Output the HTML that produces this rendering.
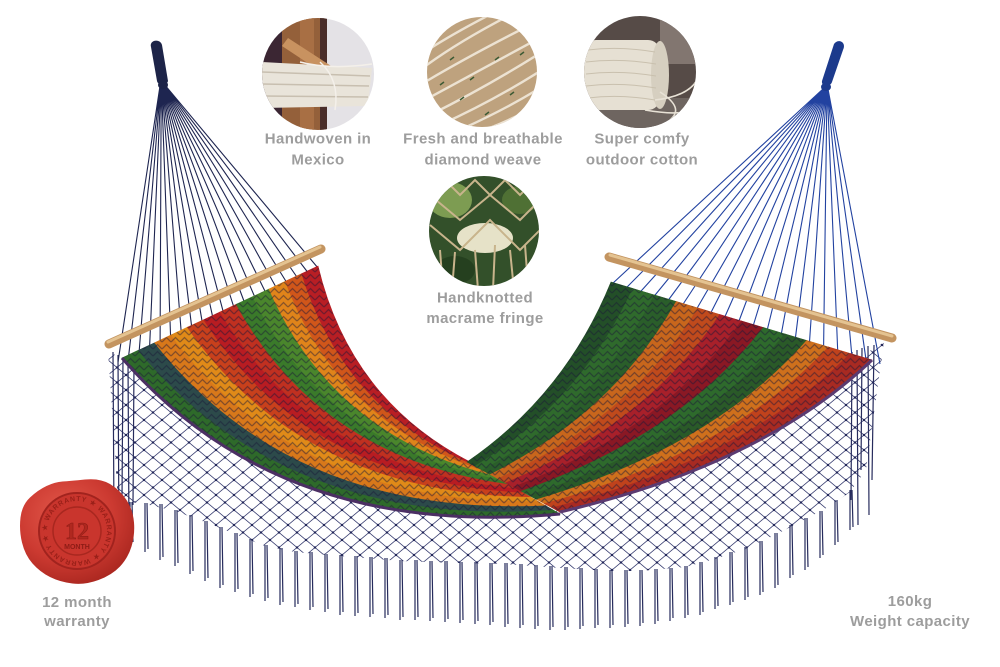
<!DOCTYPE html>
<html><head><meta charset="utf-8"><style>
html,body{margin:0;padding:0;background:#fff;}
body{width:1000px;height:667px;overflow:hidden;}
svg{display:block;}
.lbl{font-family:"Liberation Sans",Arial,sans-serif;font-weight:bold;font-size:15px;fill:#9d9d9d;letter-spacing:0.4px;}
</style></head><body>
<svg width="1000" height="667" viewBox="0 0 1000 667" xmlns="http://www.w3.org/2000/svg">
<defs>
<pattern id="mesh" width="18" height="15" patternUnits="userSpaceOnUse">
<path d="M0,0 L18,15 M18,0 L0,15" stroke="#3a3f72" stroke-width="0.85" fill="none"/>
<circle cx="9" cy="7.5" r="1.2" fill="#23285a"/>
<circle cx="0" cy="0" r="1.2" fill="#23285a"/><circle cx="18" cy="0" r="1.2" fill="#23285a"/>
<circle cx="0" cy="15" r="1.2" fill="#23285a"/><circle cx="18" cy="15" r="1.2" fill="#23285a"/>
</pattern>
<pattern id="zz" width="9" height="7" patternUnits="userSpaceOnUse">
<path d="M0,6 L4.5,1.5 L9,6" stroke="#1a1838" stroke-width="1.3" fill="none"/>
</pattern>
<radialGradient id="seal" cx="0.4" cy="0.35" r="0.7">
<stop offset="0" stop-color="#e45a4c"/><stop offset="0.6" stop-color="#cc3a31"/><stop offset="1" stop-color="#a9261f"/>
</radialGradient>
<clipPath id="c1"><circle cx="318" cy="74" r="56"/></clipPath>
<clipPath id="c2"><circle cx="482" cy="72" r="55"/></clipPath>
<clipPath id="c3"><circle cx="640" cy="72" r="56"/></clipPath>
<clipPath id="c4"><circle cx="484" cy="231" r="55"/></clipPath>
<path id="ring" d="M77,531 m-30,0 a30,30 0 1,1 60,0 a30,30 0 1,1 -60,0"/>
</defs>

<!-- circle 1 -->
<g clip-path="url(#c1)">
<rect x="260" y="16" width="120" height="120" fill="#e4e2e6"/>
<rect x="260" y="16" width="22" height="120" fill="#3b2633"/>
<rect x="282" y="16" width="44" height="120" fill="#94603a"/>
<rect x="300" y="16" width="14" height="120" fill="#a86f44"/>
<rect x="320" y="16" width="7" height="120" fill="#4a2e2a"/>
<path d="M288,38 L362,86 L356,95 L282,46 Z" fill="#c89260"/>
<path d="M262,62 L372,68 L368,106 L262,108 Z" fill="#e9e4da"/>
<path d="M262,72 L370,76 M262,84 L369,86 M262,96 L368,97" stroke="#c8bfb0" stroke-width="1.5"/>
<path d="M320,62 Q340,80 335,110 M300,62 Q330,70 372,64" stroke="#f4f0ea" stroke-width="1.5" fill="none"/>
</g>
<!-- circle 2 -->
<g clip-path="url(#c2)">
<rect x="425" y="15" width="115" height="115" fill="#bea27e"/>
<g stroke="#ece2d2" stroke-width="2.4" fill="none">
<path d="M420,70 Q460,40 520,10"/><path d="M420,85 Q470,55 540,20"/><path d="M425,100 Q480,70 545,35"/>
<path d="M430,115 Q490,85 545,50"/><path d="M440,125 Q495,100 545,68"/><path d="M455,132 Q505,110 545,85"/>
<path d="M470,135 Q515,120 545,100"/><path d="M420,55 Q450,35 495,12"/><path d="M422,40 Q440,28 470,15"/>
<path d="M500,135 Q525,125 545,115"/>
</g>
<g stroke="#3c5a34" stroke-width="1.5">
<path d="M450,60 l4,-3 M470,80 l4,-3 M495,60 l4,-3 M460,100 l4,-3 M510,95 l4,-3 M485,115 l4,-3 M440,85 l4,-3 M520,55 l4,-3"/>
</g>
</g>
<!-- circle 3 -->
<g clip-path="url(#c3)">
<rect x="580" y="14" width="120" height="120" fill="#564b47"/>
<rect x="660" y="14" width="40" height="50" fill="#827670"/>
<rect x="580" y="98" width="120" height="40" fill="#6e6560"/>
<rect x="584" y="40" width="76" height="70" rx="12" fill="#e6e0d3"/>
<ellipse cx="660" cy="75" rx="9" ry="34" fill="#d6cfc0"/>
<g stroke="#c9c0ae" stroke-width="1" fill="none">
<path d="M588,50 Q620,46 655,52 M586,62 Q620,58 656,64 M586,74 Q620,70 656,76 M586,86 Q620,82 656,88 M588,98 Q620,94 655,100"/>
</g>
<path d="M655,100 Q690,96 698,78 M645,110 Q690,118 702,104 M660,92 Q685,108 670,120" stroke="#e8e2d6" stroke-width="1.6" fill="none"/>
</g>
<!-- circle 4 -->
<g clip-path="url(#c4)">
<rect x="425" y="172" width="120" height="120" fill="#33502a"/>
<ellipse cx="450" cy="200" rx="22" ry="18" fill="#7d9c52"/>
<ellipse cx="520" cy="200" rx="18" ry="14" fill="#4f7034"/>
<ellipse cx="485" cy="238" rx="28" ry="15" fill="#e6e2c8"/>
<ellipse cx="455" cy="270" rx="20" ry="14" fill="#25401f"/>
<g stroke="#c8b48c" stroke-width="2" fill="none">
<path d="M430,195 L460,220 L490,195 L520,220 L540,200 M430,225 L460,250 L490,220 L520,250 L540,230"/>
<path d="M445,180 L460,195 L475,180 L490,195 L505,180 L520,195 L535,180"/>
<path d="M440,250 L443,290 M455,252 L452,290 M475,250 L478,290 M495,245 L493,290 M510,250 L514,290 M525,245 L528,285"/>
</g>
</g>

<!-- labels -->
<text class="lbl" x="318" y="143.5" text-anchor="middle">Handwoven in</text>
<text class="lbl" x="318" y="164.5" text-anchor="middle">Mexico</text>
<text class="lbl" x="483" y="143.5" text-anchor="middle">Fresh and breathable</text>
<text class="lbl" x="483" y="164.5" text-anchor="middle">diamond weave</text>
<text class="lbl" x="642" y="143.5" text-anchor="middle">Super comfy</text>
<text class="lbl" x="642" y="164.5" text-anchor="middle">outdoor cotton</text>
<text class="lbl" x="485" y="302.5" text-anchor="middle">Handknotted</text>
<text class="lbl" x="485" y="323" text-anchor="middle">macrame fringe</text>
<text class="lbl" x="77" y="607" text-anchor="middle">12 month</text>
<text class="lbl" x="77" y="626" text-anchor="middle">warranty</text>
<text class="lbl" x="910" y="606" text-anchor="middle">160kg</text>
<text class="lbl" x="910" y="626" text-anchor="middle">Weight capacity</text>

<!-- net -->
<path d="M108,350 L125,362 L250,450 L470,495 L650,482 L868,352 L884,342 L866,470 L850,492 L830,506 L804,520 L775,535 L745,549 L715,559 L685,567 L640,571 L610,571 L560,568 L505,564 L460,563 L400,561 L340,556 L295,552 L265,546 L235,534 L205,522 L175,511 L145,504 L118,500 Z" fill="url(#mesh)"/>
<g stroke="#262b5c" stroke-width="1.2" fill="none">
<path d="M113,352 L114,520 M118,355 L119,540 M123,358 L122,500 M128,360 L129,535 M134,364 L133,505 M852,352 L851,500 M857,350 L858,525 M862,348 L861,470 M868,346 L869,515 M874,345 L872,480"/>
<path d="M130,502 L130,545 M145,503 L145,552 M160,504 L160,560 M175,510 L175,566 M190,515 L190,574 M205,521 L205,581 M220,527 L220,588 M235,533 L235,592 M250,539 L250,597 M265,545 L265,601 M280,548 L280,605 M295,551 L295,607 M310,552 L310,610 M325,554 L325,612 M340,555 L340,615 M355,556 L355,616 M370,557 L370,617 M385,558 L385,618 M400,560 L400,620 M415,560 L415,620 M430,561 L430,621 M445,561 L445,622 M460,562 L460,623 M475,562 L475,624 M490,563 L490,625 M505,563 L505,627 M520,564 L520,628 M535,565 L535,629 M550,566 L550,630 M565,567 L565,630 M580,568 L580,629 M595,569 L595,628 M610,570 L610,628 M625,570 L625,627 M640,570 L640,626 M655,569 L655,624 M670,568 L670,621 M685,566 L685,618 M700,562 L700,615 M715,557 L715,609 M730,552 L730,605 M745,547 L745,600 M760,541 L760,595 M775,533 L775,588 M790,525 L790,578 M805,518 L805,570 M820,511 L820,558 M835,500 L835,545 M850,490 L850,530"/>
<path d="M132,502 L133,542 M147,503 L148,549 M162,504 L163,557 M177,510 L178,563 M192,515 L193,571 M207,521 L208,578 M222,527 L223,585 M237,533 L238,589 M252,539 L253,594 M267,545 L268,598 M282,548 L283,602 M297,551 L298,604 M312,552 L313,607 M327,554 L328,609 M342,555 L343,612 M357,556 L358,613 M372,557 L373,614 M387,558 L388,615 M402,560 L403,617 M417,560 L418,617 M432,561 L433,618 M447,561 L448,619 M462,562 L463,620 M477,562 L478,621 M492,563 L493,622 M507,563 L508,624 M522,564 L523,625 M537,565 L538,626 M552,566 L553,627 M567,567 L568,627 M582,568 L583,626 M597,569 L598,625 M612,570 L613,625 M627,570 L628,624 M642,570 L643,623 M657,569 L658,621 M672,568 L673,618 M687,566 L688,615 M702,562 L703,612 M717,557 L718,606 M732,552 L733,602 M747,547 L748,597 M762,541 L763,592 M777,533 L778,585 M792,525 L793,575 M807,518 L808,567 M822,511 L823,555 M837,500 L838,542 M852,490 L853,527"/>
</g>

<!-- strings -->
<g stroke="#1e2550" stroke-width="1.1" fill="none">
<path d="M160,86 L118,362 M160.3,86 L128.5,357 M160.6,86 L139.1,352 M160.9,86 L149.6,347 M161.2,86 L160.1,342 M161.5,86 L170.6,337 M161.8,86 L181.2,332 M162.1,86 L191.7,327 M162.4,86 L202.2,322 M162.7,86 L212.7,317 M163,86 L223.3,312 M163.3,86 L233.8,307 M163.6,86 L244.3,302 M163.9,86 L254.8,297 M164.2,86 L265.4,292 M164.5,86 L275.9,287 M164.8,86 L286.4,282 M165.1,86 L296.9,277 M165.4,86 L307.5,272 M165.7,86 L318,268"/>
</g>
<g stroke="#2242a0" stroke-width="1.1" fill="none">
<path d="M824,88 L612,284 M824.2,88 L626.1,288 M824.4,88 L640.2,292 M824.6,88 L654.3,296 M824.8,88 L668.4,300 M825,88 L682.5,305 M825.2,88 L696.6,309 M825.4,88 L710.7,313 M825.6,88 L724.8,317 M825.8,88 L739,321 M826,88 L753.1,326 M826.2,88 L767.2,330 M826.4,88 L781.3,334 M826.6,88 L795.4,338 M826.8,88 L809.5,342 M827,88 L823.6,347 M827.2,88 L837.7,351 M827.4,88 L851.8,355 M827.6,88 L865.9,359 M827.8,88 L880,364"/>
</g>

<!-- left bed -->
<path d="M122,358 Q280,540 560,514 L470,462 Q350,400 318,266 Z" fill="#8a1c2a"/>
<g stroke-width="0.6">
<path d="M122,358 Q280,540 560,514 L552.5,509.7 Q285.8,528.3 138.3,350.3 Z" fill="#2e6a2a" stroke="#2e6a2a"/>
<path d="M138.3,350.3 Q285.8,528.3 552.5,509.7 L545,505.3 Q291.7,516.7 154.7,342.7 Z" fill="#2c4a4a" stroke="#2c4a4a"/>
<path d="M154.7,342.7 Q291.7,516.7 545,505.3 L537.5,501 Q297.5,505 171,335 Z" fill="#d8781a" stroke="#d8781a"/>
<path d="M171,335 Q297.5,505 537.5,501 L530,496.7 Q303.3,493.3 187.3,327.3 Z" fill="#e08a18" stroke="#e08a18"/>
<path d="M187.3,327.3 Q303.3,493.3 530,496.7 L522.5,492.3 Q309.2,481.7 203.7,319.7 Z" fill="#c8401c" stroke="#c8401c"/>
<path d="M203.7,319.7 Q309.2,481.7 522.5,492.3 L515,488 Q315,470 220,312 Z" fill="#b81c22" stroke="#b81c22"/>
<path d="M220,312 Q315,470 515,488 L507.5,483.7 Q320.8,458.3 236.3,304.3 Z" fill="#c03020" stroke="#c03020"/>
<path d="M236.3,304.3 Q320.8,458.3 507.5,483.7 L500,479.3 Q326.7,446.7 252.7,296.7 Z" fill="#3a7a2a" stroke="#3a7a2a"/>
<path d="M252.7,296.7 Q326.7,446.7 500,479.3 L492.5,475 Q332.5,435 269,289 Z" fill="#4a862c" stroke="#4a862c"/>
<path d="M269,289 Q332.5,435 492.5,475 L485,470.7 Q338.3,423.3 285.3,281.3 Z" fill="#e0841a" stroke="#e0841a"/>
<path d="M285.3,281.3 Q338.3,423.3 485,470.7 L477.5,466.3 Q344.2,411.7 301.7,273.7 Z" fill="#d0561a" stroke="#d0561a"/>
<path d="M301.7,273.7 Q344.2,411.7 477.5,466.3 L470,462 Q350,400 318,266 Z" fill="#b81e24" stroke="#b81e24"/>
</g>
<path d="M122,358 Q280,540 560,514 L470,462 Q350,400 318,266 Z" fill="url(#zz)" opacity="0.45"/>
<path d="M122,358 Q280,540 560,514" stroke="#4b2f63" stroke-width="3" fill="none"/>

<!-- right bed -->
<path d="M611,282 Q565,395 467,462 L560,512 Q762,465 872,360 Z" fill="#8a1c2a"/>
<g stroke-width="0.6">
<path d="M611,282 Q565,395 467,462 L474.8,466.2 Q581.4,400.8 632.8,288.5 Z" fill="#234f28" stroke="#234f28"/>
<path d="M632.8,288.5 Q581.4,400.8 474.8,466.2 L482.5,470.3 Q597.8,406.7 654.5,295 Z" fill="#2f6a2c" stroke="#2f6a2c"/>
<path d="M654.5,295 Q597.8,406.7 482.5,470.3 L490.3,474.5 Q614.3,412.5 676.3,301.5 Z" fill="#2a5e2a" stroke="#2a5e2a"/>
<path d="M676.3,301.5 Q614.3,412.5 490.3,474.5 L498,478.7 Q630.7,418.3 698,308 Z" fill="#c8661c" stroke="#c8661c"/>
<path d="M698,308 Q630.7,418.3 498,478.7 L505.8,482.8 Q647.1,424.2 719.8,314.5 Z" fill="#c04a1c" stroke="#c04a1c"/>
<path d="M719.8,314.5 Q647.1,424.2 505.8,482.8 L513.5,487 Q663.5,430 741.5,321 Z" fill="#a8202a" stroke="#a8202a"/>
<path d="M741.5,321 Q663.5,430 513.5,487 L521.3,491.2 Q679.9,435.8 763.3,327.5 Z" fill="#8a1824" stroke="#8a1824"/>
<path d="M763.3,327.5 Q679.9,435.8 521.3,491.2 L529,495.3 Q696.3,441.7 785,334 Z" fill="#2e6a2c" stroke="#2e6a2c"/>
<path d="M785,334 Q696.3,441.7 529,495.3 L536.8,499.5 Q712.8,447.5 806.8,340.5 Z" fill="#2a5a28" stroke="#2a5a28"/>
<path d="M806.8,340.5 Q712.8,447.5 536.8,499.5 L544.5,503.7 Q729.2,453.3 828.5,347 Z" fill="#cf701c" stroke="#cf701c"/>
<path d="M828.5,347 Q729.2,453.3 544.5,503.7 L552.3,507.8 Q745.6,459.2 850.3,353.5 Z" fill="#c0421c" stroke="#c0421c"/>
<path d="M850.3,353.5 Q745.6,459.2 552.3,507.8 L560,512 Q762,465 872,360 Z" fill="#a82a22" stroke="#a82a22"/>
</g>
<path d="M611,282 Q565,395 467,462 L560,512 Q762,465 872,360 Z" fill="url(#zz)" opacity="0.45"/>
<path d="M872,360 Q762,465 560,512" stroke="#5a3a70" stroke-width="3" fill="none"/>

<!-- bars -->
<line x1="109" y1="344" x2="321" y2="249" stroke="#c39460" stroke-width="9" stroke-linecap="round"/>
<line x1="108" y1="342" x2="320" y2="247" stroke="#e4c391" stroke-width="3" stroke-linecap="round"/>
<line x1="609" y1="257" x2="892" y2="338" stroke="#c39460" stroke-width="9" stroke-linecap="round"/>
<line x1="610" y1="255" x2="892" y2="336" stroke="#e4c391" stroke-width="3" stroke-linecap="round"/>

<!-- loops -->
<path d="M151,47 C149,40 160,38 162,45 L168,81 C167,86 158,86 157,81 Z" fill="#1d2448"/>
<ellipse cx="163" cy="85" rx="5" ry="4" fill="#1d2448"/>
<path d="M834,44 C838,38 847,42 843,50 L832,82 C830,88 821,87 822,81 Z" fill="#1c3a8c"/>
<ellipse cx="826" cy="87" rx="5" ry="4" fill="#1c3a8c"/>

<!-- wax seal -->
<path d="M62.5,481.5 Q70,481 85,479.5 Q100,478 110,484 Q120,490 126.5,500 Q133,510 134,522.5 Q135,535 131.5,546.5 Q128,558 120,566.5 Q112,575 98.5,580 Q85,585 72.5,583.5 Q60,582 50,577 Q40,572 32.5,563.5 Q25,555 22,542.5 Q19,530 20.5,517.5 Q22,505 30,497.5 Q38,490 46.5,486 Q55,482 62.5,481.5 Z" fill="url(#seal)"/>
<circle cx="77" cy="531" r="38" fill="#c9352d" stroke="#a1231e" stroke-width="2"/>
<circle cx="77" cy="531" r="24" fill="none" stroke="#a8271f" stroke-width="1.5"/>
<text font-family="Liberation Sans,Arial,sans-serif" font-weight="bold" font-size="7" fill="#9a2019" letter-spacing="0.8"><textPath href="#ring">★ WARRANTY ★ WARRANTY ★ WARRANTY ★</textPath></text>
<text x="77" y="539" text-anchor="middle" font-family="Liberation Serif,serif" font-weight="bold" font-size="24" fill="#b0281f" stroke="#8e1c16" stroke-width="0.6">12</text>
<text x="77" y="549" text-anchor="middle" font-family="Liberation Sans,Arial,sans-serif" font-weight="bold" font-size="7" fill="#8e1c16">MONTH</text>
</svg>
</body></html>
